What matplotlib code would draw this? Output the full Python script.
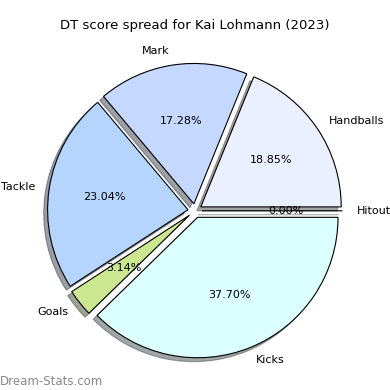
import matplotlib
matplotlib.use('Agg')
import matplotlib.pyplot as plt

labels = ['Handballs', 'Mark', 'Tackle', 'Goals', 'Kicks', 'Hitout']
scores = [36, 33, 44, 6, 72, 0]
colors = ['#eaf0ff', '#c5d8ff', '#b5d5ff', '#cbe890', '#dcffff', '#ffffff']
explode = [0.05, 0.05, 0.05, 0.05, 0.05, 0.05]

fig = plt.figure(figsize=(3.9, 3.9), dpi=100)
ax = fig.add_axes([0.05, 0.045, 0.9, 0.83])
ax.pie(scores, labels=labels, colors=colors, explode=explode, autopct='%1.2f%%',
       startangle=0, shadow=True, wedgeprops={'edgecolor': 'black', 'linewidth': 0.8},
       textprops={'fontsize': 8})
ax.set_title('DT score spread for Kai Lohmann (2023)', fontsize=9.5, pad=14)
ax.axis('equal')
fig.text(0.0, 0.012, 'Dream-Stats.com', color='#888888', fontsize=8.5)
fig.savefig('out.png', dpi=100)
